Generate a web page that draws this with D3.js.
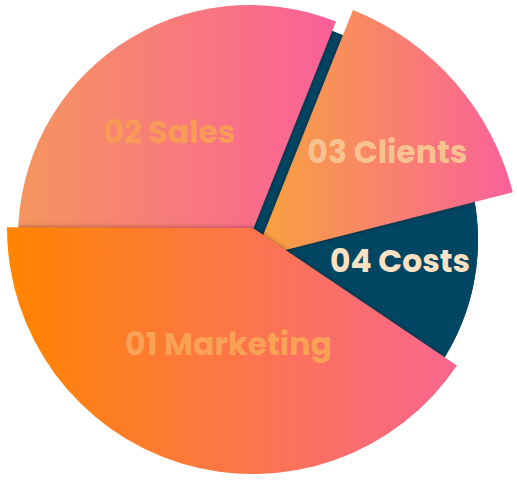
<!DOCTYPE html>
<html><head><meta charset="utf-8">
<script src="https://cdn.jsdelivr.net/npm/d3@7"></script>
<style>html,body{margin:0;padding:0;background:#fff;} svg{display:block}</style>
</head><body>
<svg id="chart" width="517" height="482"></svg>
<script>
// ---- data ----
const categories = ["01 Marketing", "02 Sales", "03 Clients", "04 Costs"];
const values = [40.6, 31.0, 15.0, 13.4];

// ---- layout / style (not data) ----
const W = 517, H = 482;
const cx = 253, cy = 236;
const startDeg = 124;
const style = {
  "01 Marketing": {dx: 0, dy: -8, r: 246, grad: ["#FF8500", "#F9668F"], label: "#F9A155", lr: 118.6, la: -5.1, tw: 207},
  "02 Sales":     {dx: -3, dy: 1, r: 232, grad: ["#F5955F", "#FA6098"], label: "#F89B56", lr: 132.6, la: -3.4, tw: 132},
  "03 Clients":   {dx: 1, dy: 22, r: 267, grad: ["#F8A43C", "#F9629A"], label: "#F8C190", lr: 170.7, la: 2.6, tw: 160},
  "04 Costs":     {dx: 2, dy: 4, r: 223, fill: "#014663", label: "#FCE2C3", lr: 146.5, la: -1.6, tw: 140}
};
const drawOrder = ["04 Costs", "02 Sales", "03 Clients", "01 Marketing"];

const svg = d3.select("#chart");
const defs = svg.append("defs");

const f = defs.append("filter").attr("id", "blur")
  .attr("x", "-10%").attr("y", "-10%").attr("width", "120%").attr("height", "120%");
f.append("feGaussianBlur").attr("stdDeviation", 2.4);

categories.forEach((c, i) => {
  const s = style[c];
  if (s.grad) {
    const g = defs.append("linearGradient").attr("id", "g" + i)
      .attr("x1", 0).attr("y1", 0).attr("x2", 1).attr("y2", 0);
    g.append("stop").attr("offset", "0%").attr("stop-color", s.grad[0]);
    g.append("stop").attr("offset", "100%").attr("stop-color", s.grad[1]);
  }
});

const toRad = d => d * Math.PI / 180;
const pie = d3.pie().sort(null).value(d => d.value)
  .startAngle(toRad(startDeg)).endAngle(toRad(startDeg) + 2 * Math.PI);
const arcs = pie(categories.map((c, i) => ({cat: c, value: values[i], idx: i})));
const byCat = {};
arcs.forEach(a => byCat[a.data.cat] = a);

const root = svg.append("g").attr("transform", `translate(${cx},${cy})`);

// shapes: base disc of dark slice + each slice
const cs = style["04 Costs"];
const discD = d3.arc().innerRadius(0).outerRadius(cs.r)({startAngle: 0, endAngle: 2 * Math.PI});
const shapes = [{d: discD, t: `translate(${cs.dx},${cs.dy})`, fill: cs.fill}];
drawOrder.forEach(c => {
  const a = byCat[c], s = style[c];
  shapes.push({
    cat: c,
    d: d3.arc().innerRadius(0).outerRadius(s.r)(a),
    t: `translate(${s.dx},${s.dy})`,
    fill: s.fill ? s.fill : `url(#g${a.data.idx})`
  });
});

shapes.forEach((sh, k) => {
  if (k >= 2) {
    // soft shadow cast only onto the slices already drawn
    const clipId = "clip" + k;
    const cp = defs.append("clipPath").attr("id", clipId);
    shapes.slice(0, k).forEach(p => cp.append("path")
      .attr("d", p.d).attr("transform", `translate(${cx},${cy}) ` + p.t));
    svg.insert("g", "g").remove(); // no-op keep order
    root.append("g")
      .attr("transform", `translate(${-cx},${-cy})`)
      .attr("clip-path", `url(#${clipId})`)
      .append("path")
      .attr("transform", `translate(${cx},${cy}) ` + sh.t)
      .attr("d", sh.d)
      .attr("fill", "#2a0f05")
      .attr("opacity", 0.45)
      .attr("filter", "url(#blur)");
  }
  root.append("path")
    .attr("transform", sh.t)
    .attr("d", sh.d)
    .attr("fill", sh.fill);
});

// labels
categories.forEach(c => {
  const a = byCat[c];
  const s = style[c];
  const ang = (a.startAngle + a.endAngle) / 2 + toRad(s.la);
  const x = s.dx + s.lr * Math.sin(ang);
  const y = s.dy - s.lr * Math.cos(ang);
  root.append("text")
    .attr("x", x).attr("y", y)
    .attr("dy", "0.36em")
    .attr("text-anchor", "middle")
    .attr("font-family", "Poppins, Inter, 'Open Sans', sans-serif")
    .attr("font-weight", 700)
    .attr("font-size", 31)
    .attr("textLength", s.tw)
    .attr("lengthAdjust", "spacingAndGlyphs")
    .attr("fill", s.label)
    .text(c);
});
</script>
</body></html>
